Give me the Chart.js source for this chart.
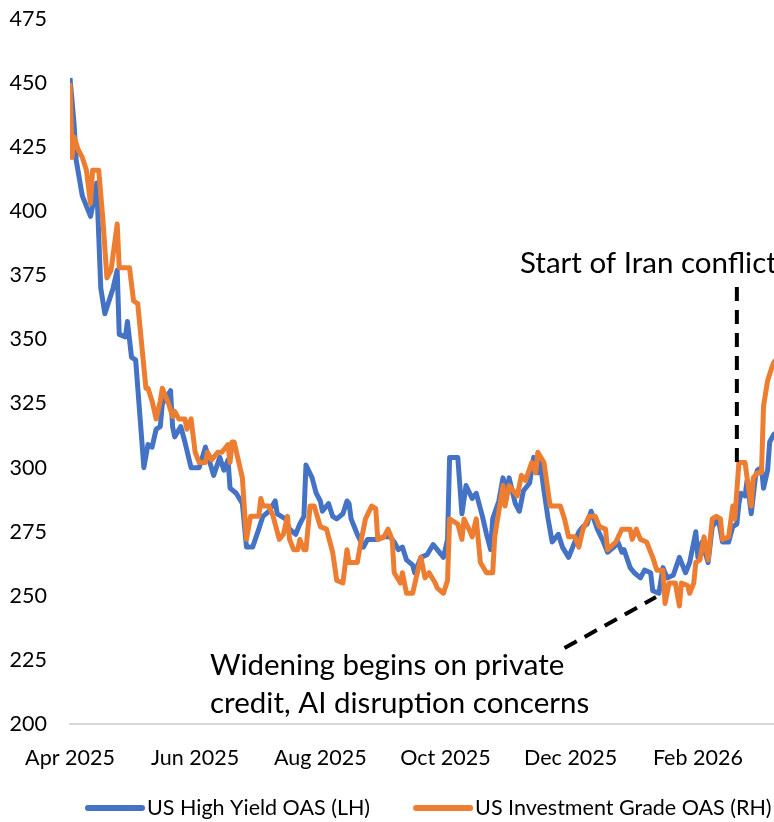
<!DOCTYPE html>
<html>
<head>
<meta charset="utf-8">
<script src="https://cdn.jsdelivr.net/npm/chart.js@4.4.1/dist/chart.umd.min.js"></script>
<style>
  html, body { margin: 0; padding: 0; background: #fff; }
</style>
</head>
<body>
<canvas id="spreadChart" width="774" height="822"></canvas>
<script>
// x values are days after 1 Apr 2025
const hyDay = [0,2,3,6,10,11,13,15,17,21,23,24,27,28,30,32,36,38,40,42,44,45,49,50,51,54,56,59,63,66,70,73,75,77,78,81,84,86,89,92,94,97,100,101,105,107,110,112,114,115,118,120,122,123,126,128,130,133,135,136,137,140,143,145,150,153,156,158,160,162,164,167,168,171,174,177,179,182,184,185,189,191,193,196,198,201,203,205,206,209,211,213,214,217,219,221,224,226,228,229,231,233,235,238,240,243,245,248,250,252,254,257,260,262,265,267,269,270,273,275,278,280,283,284,287,289,291,294,297,300,302,305,306,308,311,313,316,318,321,323,325,326,327,329,330,332,334,335,337,338,340,341,343,345];
const hyOas = [452,434,420,406,398,402,411,370,360,370,377,352,351,357,343,342,300,309,308,315,316,325,330,316,312,316,310,300,300,308,297,304,299,303,292,290,286,269,269,276,281,283,287,282,280,276,274,278,281,301,296,290,287,283,286,281,280,282,287,286,280,274,269,272,272,273,273,271,268,269,264,262,259,265,266,270,268,265,272,304,304,282,293,288,290,281,274,268,280,287,296,291,296,286,283,291,294,304,298,303,291,280,271,274,269,265,269,275,277,278,283,276,271,267,269,271,267,268,261,259,257,260,259,252,251,261,257,258,265,259,263,275,265,271,263,277,280,271,271,277,278,286,290,289,295,282,296,299,300,292,299,310,313,314];

const igDay = [0,1,2,4,6,8,10,11,14,16,18,20,23,24,29,31,33,37,38,40,42,44,45,48,50,51,53,56,57,59,61,63,66,67,69,72,74,77,78,79,80,84,86,88,92,93,94,97,99,102,104,106,107,109,111,112,114,115,117,119,122,125,128,130,133,135,136,140,142,144,147,149,150,153,155,157,158,161,162,164,167,171,173,175,178,179,182,184,185,189,191,192,195,196,198,200,203,206,207,211,212,214,218,220,222,225,227,228,231,234,239,241,243,246,248,250,253,256,258,261,262,266,269,273,274,276,278,281,284,286,289,290,292,295,297,298,301,302,304,305,307,309,311,313,315,317,318,321,323,324,326,329,330,332,333,335,337,338,340,342,343,345];
const igOas = [450,421,429,424,421,416,403,416,416,397,374,377,395,378,378,365,364,331,331,326,319,326,331,325,320,322,319,319,315,319,306,302,302,306,303,306,306,309,302,310,310,296,272,281,281,288,285,285,281,272,274,281,272,268,268,272,268,268,285,285,277,276,267,256,255,268,263,263,272,280,285,284,272,273,276,272,259,255,259,251,251,265,257,259,255,253,251,256,280,278,272,280,275,273,280,263,259,259,273,293,285,293,289,297,295,302,298,306,302,285,285,280,273,273,269,276,281,281,277,276,268,271,276,276,272,276,272,271,265,260,260,247,255,255,246,255,254,251,255,263,264,273,264,280,281,280,272,273,285,280,302,302,296,285,296,298,298,324,334,339,341,343];

const tickDay = [0, 61, 122, 183, 244, 306];
const tickLabel = ['Apr 2025', 'Jun 2025', 'Aug 2025', 'Oct 2025', 'Dec 2025', 'Feb 2026'];

const seriesNames = ['US High Yield OAS (LH)', 'US Investment Grade OAS (RH)'];
const blue = '#4472C4';
const orange = '#ED7D31';
const fontName = 'Lato';

function toPoints(days, vals) {
  return days.map((d, i) => ({ x: d, y: vals[i] }));
}

// annotation lines and texts, plus the legend
const notesPlugin = {
  id: 'notes',
  afterDatasetsDraw(chart) {
    const { ctx, scales: { x, y } } = chart;
    ctx.save();
    ctx.strokeStyle = '#000';
    ctx.lineWidth = 4;
    ctx.setLineDash([14, 9]);
    ctx.beginPath();
    ctx.moveTo(x.getPixelForValue(325), y.getPixelForValue(370.5));
    ctx.lineTo(x.getPixelForValue(325), y.getPixelForValue(299));
    ctx.stroke();
    ctx.beginPath();
    ctx.moveTo(x.getPixelForValue(241), y.getPixelForValue(229.6));
    ctx.lineTo(x.getPixelForValue(285.6), y.getPixelForValue(249.5));
    ctx.stroke();
    ctx.setLineDash([]);

    ctx.fillStyle = '#000';
    ctx.font = '29.5px ' + fontName;
    ctx.textBaseline = 'middle';
    ctx.textAlign = 'left';
    ctx.fillText('Start of Iran conflict', 520, 263);
    ctx.fillText('Widening begins on private', 210, 665);
    ctx.fillText('credit, AI disruption concerns', 210, 703);

    ctx.font = '21.5px ' + fontName;
    ctx.lineWidth = 6;
    ctx.lineCap = 'round';
    let lx = 88;
    const ly = 808;
    chart.data.datasets.forEach(ds => {
      ctx.strokeStyle = ds.borderColor;
      ctx.beginPath();
      ctx.moveTo(lx, ly);
      ctx.lineTo(lx + 54, ly);
      ctx.stroke();
      ctx.fillText(ds.label, lx + 59, ly);
      lx += 59 + ctx.measureText(ds.label).width + 46;
    });
    ctx.restore();
  }
};

new Chart(document.getElementById('spreadChart'), {
  type: 'line',
  data: {
    datasets: [{
      label: seriesNames[0],
      data: toPoints(hyDay, hyOas),
      borderColor: blue,
      backgroundColor: blue,
      borderWidth: 5,
      pointRadius: 0,
      tension: 0,
      borderJoinStyle: 'round',
      order: 1
    }, {
      label: seriesNames[1],
      data: toPoints(igDay, igOas),
      borderColor: orange,
      backgroundColor: orange,
      borderWidth: 5,
      pointRadius: 0,
      tension: 0,
      borderJoinStyle: 'round',
      order: 0
    }]
  },
  options: {
    responsive: false,
    animation: false,
    layout: { padding: { top: 19, right: 0, bottom: 50, left: 0 } },
    plugins: {
      legend: { display: false },
      tooltip: { enabled: false }
    },
    scales: {
      x: {
        type: 'linear',
        min: 0,
        max: 343.1,
        grid: { display: false, drawTicks: false },
        border: { display: true, color: '#D9D9D9', width: 2 },
        afterBuildTicks: scale => { scale.ticks = tickDay.map(v => ({ value: v })); },
        afterFit: scale => { scale.height = 48; scale.paddingLeft = 0; scale.paddingRight = 0; },
        ticks: {
          autoSkip: false,
          maxRotation: 0,
          padding: 21,
          color: '#000',
          font: { family: fontName, size: 21.5 },
          callback: v => tickLabel[tickDay.indexOf(v)]
        }
      },
      y: {
        min: 200,
        max: 475,
        grid: { display: false, drawTicks: false },
        border: { display: false },
        afterFit: scale => { scale.width = 70; scale.paddingTop = 0; scale.paddingBottom = 0; },
        ticks: {
          stepSize: 25,
          padding: 23,
          color: '#000',
          font: { family: fontName, size: 21.5 }
        }
      }
    }
  },
  plugins: [notesPlugin]
});
</script>
</body>
</html>
